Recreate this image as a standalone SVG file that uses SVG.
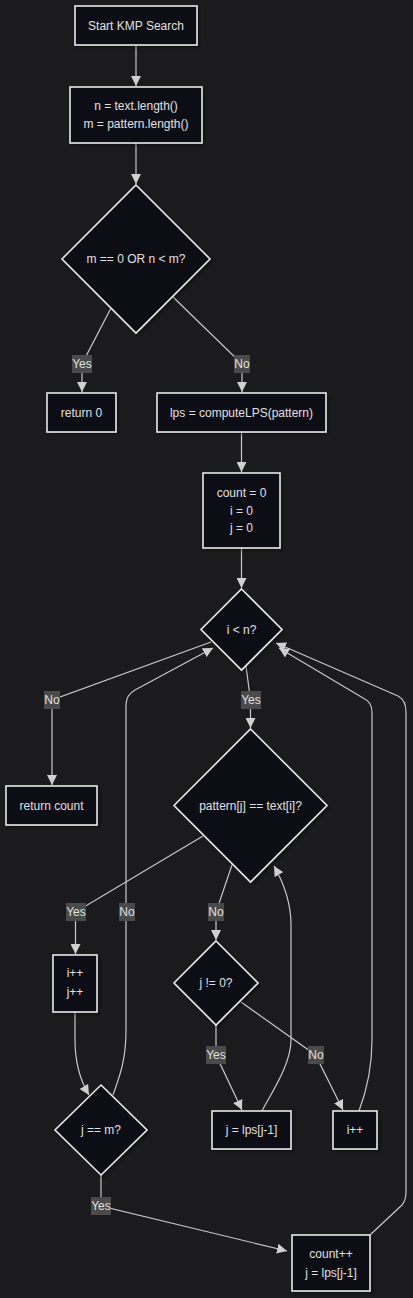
<svg xmlns="http://www.w3.org/2000/svg" width="413" height="1298" viewBox="0 0 413 1298">
<defs>
<style>
.node rect,.node polygon{fill:#0d0e17;stroke:#e8e8e8;stroke-width:1.6;filter:url(#sh)}
.node text{font-family:"Liberation Sans",Arial,sans-serif;font-size:12px;fill:#e0e0e0;text-anchor:middle;dominant-baseline:central}
.edge{fill:none;stroke:#c8c8c8;stroke-width:1.2;marker-end:url(#arr)}
.lbl rect{fill:#4a4a4a}
.lbl text{font-family:"Liberation Sans",Arial,sans-serif;font-size:12px;fill:#e0e0e0;text-anchor:middle;dominant-baseline:central}
</style>
<marker id="arr" viewBox="0 0 10 10" refX="10" refY="5" markerWidth="10" markerHeight="10" markerUnits="userSpaceOnUse" orient="auto">
<path d="M0,0 L10,5 L0,10 z" fill="#d0d0d0"/>
</marker>
<filter id="sh" x="-20%" y="-20%" width="140%" height="140%">
<feDropShadow dx="2" dy="2" stdDeviation="1.5" flood-color="#000" flood-opacity="0.35"/>
</filter>
</defs>
<rect width="413" height="1298" fill="#1b1b1d"/>
<g id="connectors">
<path class="edge" d="M136,45 L136,86"/>
<path class="edge" d="M136,143 L136,184"/>
<path class="edge" d="M111,308 L82,364 L82,392"/>
<path class="edge" d="M173,297 L242,364 L242,392"/>
<path class="edge" d="M241.5,432 L241.5,472"/>
<path class="edge" d="M241.5,548 L241.5,588"/>
<path class="edge" d="M211,642 L52,700 L52,785"/>
<path class="edge" d="M246,666 L250.5,700 L250.5,728"/>
<path class="edge" d="M203,836 L75.5,912 L75.5,954"/>
<path class="edge" d="M232,865 L216,912 L216,940"/>
<path class="edge" d="M75,1012 L75,1040 C75,1062 80,1080 89,1095"/>
<path class="edge" d="M113,1095 C120,1075 126,1060 126,1030 L126,705 Q126,695 135,690 L213,648"/>
<path class="edge" d="M101,1175 L101,1206 L287,1251"/>
<path class="edge" d="M370,1235 L402,1205 Q406,1200 406,1192 L406,712 Q406,700 398,696 L276,643"/>
<path class="edge" d="M262,1111 C270,1095 291,1065 291,1040 L291,925 C291,900 282,880 274,866"/>
<path class="edge" d="M216,1024 L216,1055 L242,1110"/>
<path class="edge" d="M241,1002 L315.5,1055 L343,1110"/>
<path class="edge" d="M359,1111 C365,1095 372,1070 372,1040 L372,712 Q372,702 363,698 L279,648"/>
</g>
<g id="edge-labels">
<g class="lbl"><rect x="72" y="355" width="20" height="18"/><text x="82" y="364">Yes</text></g>
<g class="lbl"><rect x="234" y="355" width="16" height="18"/><text x="242" y="364">No</text></g>
<g class="lbl"><rect x="44" y="691" width="16" height="18"/><text x="52" y="700">No</text></g>
<g class="lbl"><rect x="241" y="691" width="20" height="18"/><text x="251" y="700">Yes</text></g>
<g class="lbl"><rect x="66" y="903" width="20" height="18"/><text x="76" y="912">Yes</text></g>
<g class="lbl"><rect x="119" y="903" width="16" height="18"/><text x="127" y="912">No</text></g>
<g class="lbl"><rect x="208" y="903" width="16" height="18"/><text x="216" y="912">No</text></g>
<g class="lbl"><rect x="206" y="1046" width="20" height="18"/><text x="216" y="1055">Yes</text></g>
<g class="lbl"><rect x="308" y="1046" width="16" height="18"/><text x="316" y="1055">No</text></g>
<g class="lbl"><rect x="91" y="1197" width="20" height="18"/><text x="101" y="1206">Yes</text></g>
</g>
<g id="start" class="node"><rect x="75" y="6" width="122" height="39"/><text x="136" y="25.5">Start KMP Search</text></g>
<g id="init" class="node"><rect x="70" y="87" width="132" height="56"/><text x="136" y="106">n = text.length()</text><text x="136" y="124">m = pattern.length()</text></g>
<g id="check" class="node"><polygon points="136,185 210,259 136,333 62,259"/><text x="136" y="259">m == 0 OR n &lt; m?</text></g>
<g id="ret0" class="node"><rect x="47" y="393" width="69" height="39"/><text x="81.5" y="412.5">return 0</text></g>
<g id="lps" class="node"><rect x="157" y="393" width="169" height="39"/><text x="241.5" y="412.5">lps = computeLPS(pattern)</text></g>
<g id="vars" class="node"><rect x="203" y="473" width="77" height="75"/><text x="241.5" y="493">count = 0</text><text x="241.5" y="511">i = 0</text><text x="241.5" y="528">j = 0</text></g>
<g id="loop" class="node"><polygon points="241.5,589 282,629.5 241.5,670 201,629.5"/><text x="241.5" y="629.5">i &lt; n?</text></g>
<g id="retc" class="node"><rect x="6" y="786" width="91" height="39"/><text x="51.5" y="805.5">return count</text></g>
<g id="match" class="node"><polygon points="250.5,729 327,805.5 250.5,882 174,805.5"/><text x="250.5" y="805.5">pattern[j] == text[i]?</text></g>
<g id="inc" class="node"><rect x="53" y="955" width="44" height="57"/><text x="75" y="973">i++</text><text x="75" y="992">j++</text></g>
<g id="jnz" class="node"><polygon points="216,941 258,983 216,1025 174,983"/><text x="216" y="983">j != 0?</text></g>
<g id="jeqm" class="node"><polygon points="101,1085 147,1130 101,1175 55,1130"/><text x="101" y="1130">j == m?</text></g>
<g id="jlps" class="node"><rect x="212" y="1111" width="79" height="38"/><text x="251.5" y="1130">j = lps[j-1]</text></g>
<g id="ipp" class="node"><rect x="333" y="1111" width="44" height="38"/><text x="355" y="1130">i++</text></g>
<g id="found" class="node"><rect x="292" y="1235" width="78" height="56"/><text x="331" y="1254">count++</text><text x="331" y="1273">j = lps[j-1]</text></g>
</svg>
